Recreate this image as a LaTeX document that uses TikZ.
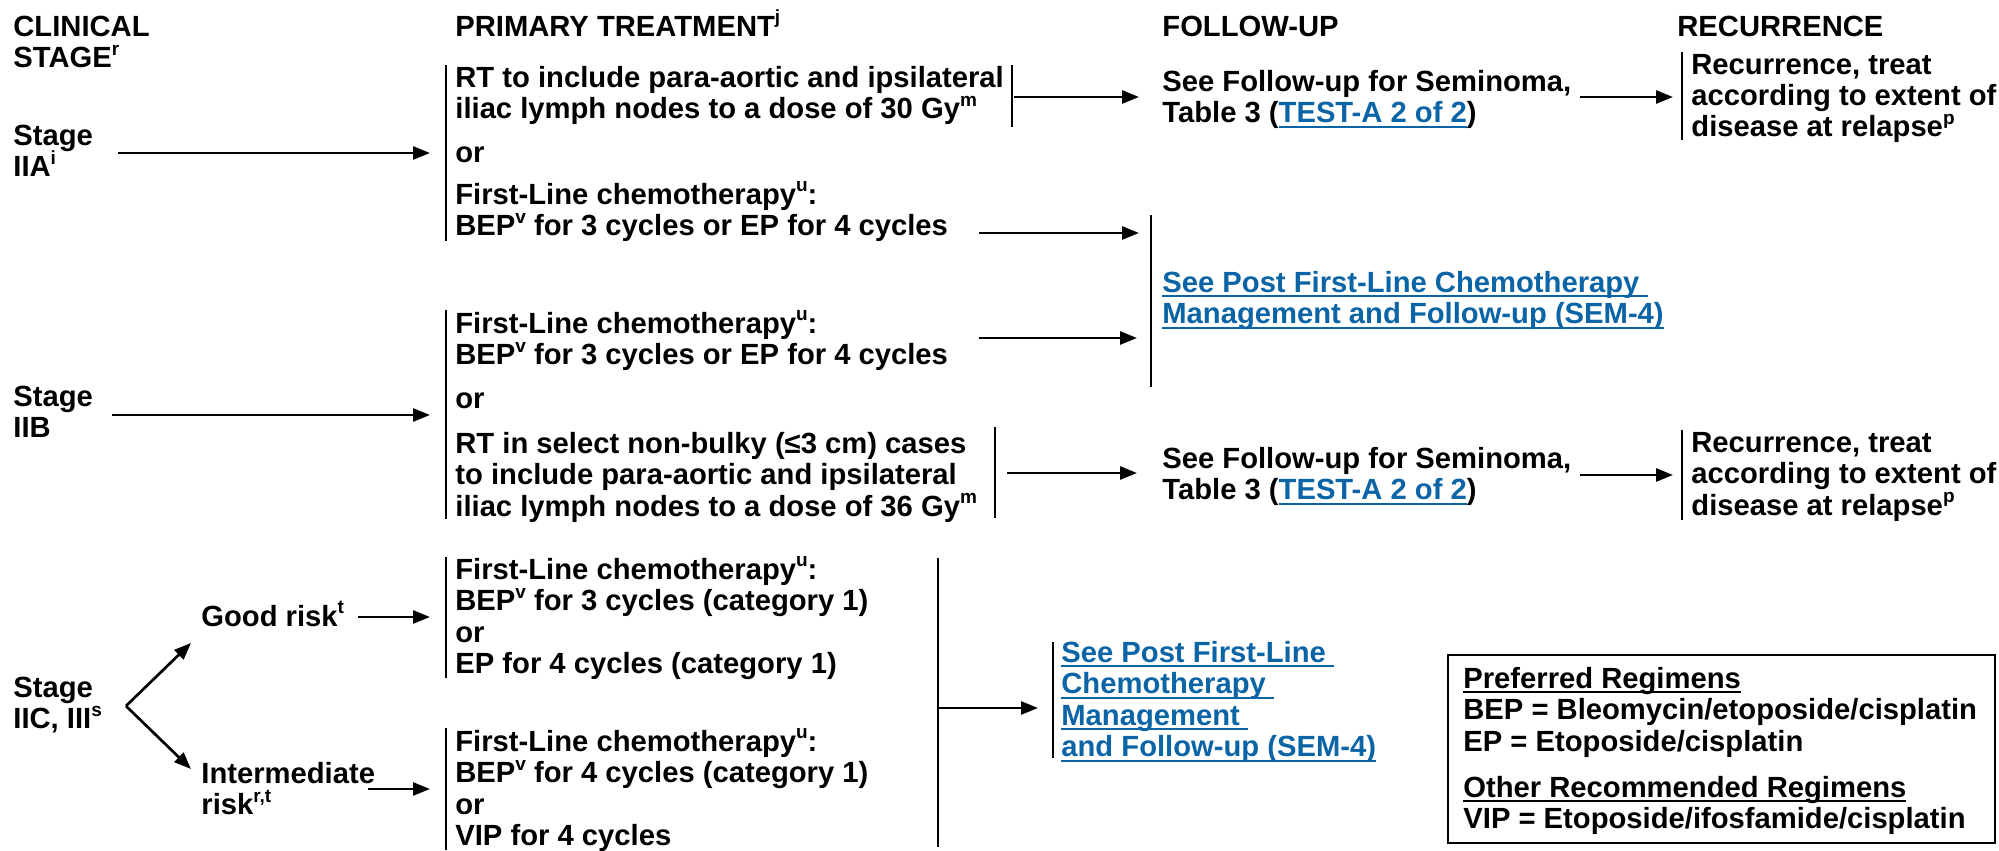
\documentclass[tikz,border=0pt]{standalone}
\usepackage{fontspec}
\setmainfont{Liberation Sans}
\usetikzlibrary{arrows.meta}
\definecolor{linkblue}{RGB}{10,100,165}
\newcommand\fs{\fontsize{14.6}{15.75}\selectfont\bfseries\lineskiplimit=-20pt\lineskip=0pt}
\newcommand\ml[1]{\vtop{\halign{##\hfil\cr#1\crcr}}}
\newcommand\sups[1]{\raisebox{0.42em}{\fontsize{9.5}{9.5}\selectfont #1}}
\newcommand\ulx[1]{\setbox0\hbox{#1}\rlap{\rule[-2.6pt]{\wd0}{0.9pt}}\box0}
\tikzset{
  txt/.style={anchor=base west, inner sep=0pt, font=\fs},
  lnk/.style={txt, text=linkblue},
  bar/.style={draw, line width=1pt},
  arr/.style={draw, line width=1.35pt, -{Triangle[length=8.5pt,width=6.5pt]}},
}
\begin{document}
\begin{tikzpicture}[x=0.5pt,y=-0.5pt]
\useasboundingbox (0,0) rectangle (1999,851);
% headers
\node[txt] (hcs) at (13,36) {\ml{CLINICAL\cr STAGE\sups{r}}};
\node[txt] (hpt) at (455,36) {PRIMARY TREATMENT\sups{j}};
\node[txt] (hfu) at (1162,36) {FOLLOW-UP};
\node[txt] (hrec) at (1677,36) {RECURRENCE};

% ---- Stage IIA
\node[txt] (s2a) at (13,145) {\ml{Stage\cr IIA\sups{i}}};
\coordinate (s2aE) at (118,153);
\coordinate (b1tip) at (430,153);
\draw[bar] (446,65) -- (446,241);
\node[txt] (rt30) at (455,87) {\ml{RT to include para-aortic and ipsilateral\cr iliac lymph nodes to a dose of 30 Gy\sups{m}}};
\draw[bar] (1012,65) -- (1012,127);
\node[txt] (or1) at (455,162) {or};
\node[txt] (fl1) at (455,204) {\ml{First-Line chemotherapy\sups{u}:\cr BEP\sups{v} for 3 cycles or EP for 4 cycles}};
\draw[arr] (s2aE) -- (b1tip);
\coordinate (rt30E) at (1014,97);
\coordinate (fu1W) at (1139,97);
\draw[arr] (rt30E) -- (fu1W);
\coordinate (fl1E) at (979,233);
\coordinate (p1a) at (1139,233);
\draw[arr] (fl1E) -- (p1a);
\node[txt] (fu1) at (1162,91) {\ml{See Follow-up for Seminoma,\cr Table 3 (\textcolor{linkblue}{\ulx{TEST-A 2 of 2}})}};
\coordinate (fu1E) at (1580,97);
\coordinate (rec1W) at (1673,97);
\draw[arr] (fu1E) -- (rec1W);
\draw[bar] (1682,52) -- (1682,140);
\node[txt] (rec1) at (1691,74) {\ml{Recurrence, treat\cr according to extent of\cr disease at relapse\sups{p}}};

% ---- Post first-line (upper)
\draw[bar] (1151,215) -- (1151,387);
\node[lnk] (post1) at (1162,292) {\ml{\ulx{See Post First-Line Chemotherapy\ }\cr \ulx{Management and Follow-up (SEM-4)}}};

% ---- Stage IIB
\node[txt] (s2b) at (13,406) {\ml{Stage\cr IIB}};
\coordinate (s2bE) at (112,415);
\coordinate (b2tip) at (430,415);
\draw[arr] (s2bE) -- (b2tip);
\draw[bar] (446,310) -- (446,519);
\node[txt] (fl2) at (455,333) {\ml{First-Line chemotherapy\sups{u}:\cr BEP\sups{v} for 3 cycles or EP for 4 cycles}};
\coordinate (fl2E) at (979,338);
\coordinate (p1b) at (1137,338);
\draw[arr] (fl2E) -- (p1b);
\node[txt] (or2) at (455,408) {or};
\node[txt] (rt36) at (455,453) {\ml{RT in select non-bulky (≤3 cm) cases\cr to include para-aortic and ipsilateral\cr iliac lymph nodes to a dose of 36 Gy\sups{m}}};
\draw[bar] (995,427) -- (995,518);
\coordinate (rt36E) at (1007,473);
\coordinate (fu2W) at (1137,473);
\draw[arr] (rt36E) -- (fu2W);
\node[txt] (fu2) at (1162,468) {\ml{See Follow-up for Seminoma,\cr Table 3 (\textcolor{linkblue}{\ulx{TEST-A 2 of 2}})}};
\coordinate (fu2E) at (1580,475);
\coordinate (rec2W) at (1673,475);
\draw[arr] (fu2E) -- (rec2W);
\draw[bar] (1682,430) -- (1682,520);
\node[txt] (rec2) at (1691,452) {\ml{Recurrence, treat\cr according to extent of\cr disease at relapse\sups{p}}};

% ---- Stage IIC, III
\node[txt] (s2c) at (13,697) {\ml{Stage\cr IIC, III\sups{s}}};
\coordinate (split) at (126,706);
\coordinate (goodW) at (191,643);
\coordinate (interW) at (191,769);
\draw[arr] (split) -- (goodW);
\draw[arr] (split) -- (interW);
\node[txt] (good) at (201,626) {Good risk\sups{t}};
\coordinate (goodE) at (358,617);
\coordinate (g3tip) at (430,617);
\draw[arr] (goodE) -- (g3tip);
\node[txt] (inter) at (201,783) {\ml{Intermediate\cr risk\sups{r,t}}};
\coordinate (interE) at (368,789);
\coordinate (i3tip) at (430,789);
\draw[arr] (interE) -- (i3tip);
\draw[bar] (446,557) -- (446,678);
\node[txt] (flg) at (455,579) {\ml{First-Line chemotherapy\sups{u}:\cr BEP\sups{v} for 3 cycles (category 1)\cr or\cr EP for 4 cycles (category 1)}};
\draw[bar] (446,728) -- (446,850);
\node[txt] (fli) at (455,751) {\ml{First-Line chemotherapy\sups{u}:\cr BEP\sups{v} for 4 cycles (category 1)\cr or\cr VIP for 4 cycles}};
\draw[bar] (938,558) -- (938,847);
\coordinate (vjoin) at (938,708);
\coordinate (post2W) at (1038,708);
\draw[arr] (vjoin) -- (post2W);
\draw[bar] (1053,642) -- (1053,758);
\node[lnk] (post2) at (1061,662) {\ml{\ulx{See Post First-Line\ }\cr \ulx{Chemotherapy\ }\cr \ulx{Management\ }\cr \ulx{and Follow-up (SEM-4)}}};

% ---- Legend
\draw[line width=1.3pt] (1448,655) rectangle (1995,843);
\node[txt] (leg1) at (1463,688) {\ml{\ulx{Preferred Regimens}\cr BEP = Bleomycin/etoposide/cisplatin\cr EP = Etoposide/cisplatin}};
\node[txt] (leg2) at (1463,797) {\ml{\ulx{Other Recommended Regimens}\cr VIP = Etoposide/ifosfamide/cisplatin}};
\end{tikzpicture}
\end{document}
